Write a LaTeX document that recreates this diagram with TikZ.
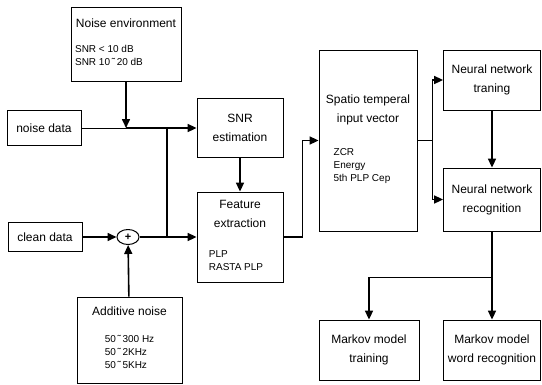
\documentclass[tikz,border=0pt,12pt]{standalone}
\usepackage{fontspec}
\setmainfont{Liberation Sans}
\usetikzlibrary{arrows.meta,shapes.geometric}
\newcommand{\lstfont}{\fontsize{10}{13}\selectfont}

\begin{document}
\begin{tikzpicture}[x=1pt,y=-1pt,>={Triangle[length=9pt,width=8pt]},
  blk/.style={draw,line width=0.8pt,inner sep=2pt,align=center,font=\fontsize{12}{19}\selectfont},
  sig/.style={line width=1.6pt}]
\useasboundingbox (0,0) rectangle (542,384);
\node[blk,minimum width=110pt,minimum height=74pt] (env) at (126,44)
  {Noise environment\\[6pt]\lstfont\begin{tabular}[t]{@{}l@{\hspace{34pt}}}SNR < 10 dB\\SNR 10\,˜\,20 dB\end{tabular}};
\node[blk,minimum width=74pt,minimum height=35pt] (noise) at (44,128) {noise data};
\node[blk,minimum width=74pt,minimum height=29pt] (clean) at (45,237) {clean data};
\node[draw,ellipse,line width=1pt,inner sep=0pt,minimum width=22pt,minimum height=15pt,font=\small\bfseries] (sum) at (128,237) {+};
\node[blk,minimum width=105pt,minimum height=86pt] (add) at (129.5,340)
  {Additive noise\\[8pt]\lstfont\begin{tabular}[t]{@{}l@{}}50\,˜\,300 Hz\\50\,˜\,2KHz\\50\,˜\,5KHz\end{tabular}};
\node[blk,minimum width=86pt,minimum height=59pt] (snr) at (240,128) {SNR\\estimation};
\node[blk,minimum width=86pt,minimum height=90pt] (feat) at (240,237)
  {Feature\\extraction\\[11pt]\lstfont\begin{tabular}[t]{@{}l@{\hspace{8pt}}}PLP\\RASTA PLP\end{tabular}};
\node[blk,minimum width=98pt,minimum height=181pt] (vec) at (368,140.5)
  {Spatio temperal\\input vector\\[14pt]\lstfont\begin{tabular}[t]{@{}l@{\hspace{12pt}}}ZCR\\Energy\\5th PLP Cep\end{tabular}};
\node[blk,minimum width=97pt,minimum height=60pt] (nnt) at (492,80) {Neural network\\traning};
\node[blk,minimum width=97pt,minimum height=63pt] (nnr) at (492,199.5) {Neural network\\recognition};
\node[blk,minimum width=100pt,minimum height=60pt] (mkt) at (369,350) {Markov model\\training};
\node[blk,minimum width=97pt,minimum height=60pt] (mkw) at (492,350) {Markov model\\word recognition};
% noise path
\draw[line width=1pt] (noise) -- (env |- noise) coordinate (j0);
\draw[sig,->] (j0) -- (snr);
\draw[sig,->] (env) -- (j0);
\coordinate (j1) at (167,128);
\coordinate (j2) at (167,237);
\draw[sig] (j1) -- (j2);
% clean path
\draw[sig,->] (clean) -- (sum);
\draw[sig,->] (add) -- (sum);
\draw[sig,->] (sum) -- (feat);
\draw[sig,->] (snr) -- (feat);
\draw[sig,->] (feat.east) -- ++(19,0) |- (vec);
% recognition
\draw[sig] (vec.east) -- ++(15,0) coordinate (b1);
\draw[sig,->] (b1) |- (nnt);
\draw[sig,->] (b1) |- (nnr);
\draw[sig,->] (nnt) -- (nnr);
\draw[sig,->] (nnr) -- (mkw);
\draw[sig,->] (nnr.south) ++(0,46) -| (mkt);
\end{tikzpicture}
\end{document}
